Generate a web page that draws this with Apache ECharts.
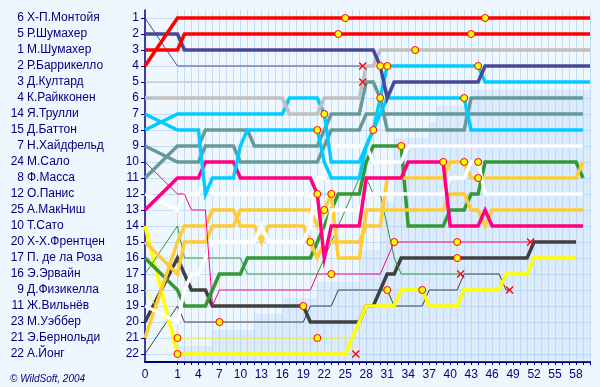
<!DOCTYPE html>
<html><head><meta charset="utf-8">
<script src="https://cdn.jsdelivr.net/npm/echarts@6/dist/echarts.min.js"></script>
<style>html,body{margin:0;padding:0;background:#eef6fe;}#c{width:600px;height:387px;}</style>
</head><body><div id="c"></div>
<script>
// ---------- DATA ----------
const gridNums  = [6,5,1,2,3,4,14,15,7,24,8,12,25,10,20,17,16,9,11,23,21,22];
const gridNames = ['Х-П.Монтойя','Р.Шумахер','М.Шумахер','Р.Баррикелло','Д.Култард','К.Райкконен','Я.Трулли','Д.Баттон','Н.Хайдфельд','М.Сало','Ф.Масса','О.Панис','А.МакНиш','Т.Сато','Х-Х.Френтцен','П. де ла Роза','Э.Эрвайн','Д.Физикелла','Ж.Вильнёв','М.Уэббер','Э.Бернольди','А.Йонг'];
const xTickLabels = [0,1,4,7,10,13,16,19,22,25,28,31,34,37,40,43,46,49,52,55,58];

// position per lap (index = lap 0..)
const posMontoya = [1,4,4,4,4,4,4,4,4,4, 4,4,4,4,4,4,4,4,4,4, 4,4,4,4,4,4,4,4];
const posRSchu = [2,2,3,3,3,3,3,3,3,3, 3,3,3,3,3,3,3,3,3,3, 3,3,3,3,3,3,3,3,3,3, 4,6,5,5,5,5,5,5,5,5, 5,5,5,5,5,4,4,4,4,4, 4,4,4,4,4,4,4,4,4,4,4];
const posMSchu = [3,3,2,2,2,2,2,2,2,2, 2,2,2,2,2,2,2,2,2,2, 2,2,2,2,2,2,2,2,2,2, 2,2,2,2,2,2,2,2,2,2, 2,2,2,2,2,2,2,2,2,2, 2,2,2,2,2,2,2,2,2,2,2];
const posBarrichello = [4,1,1,1,1,1,1,1,1,1, 1,1,1,1,1,1,1,1,1,1, 1,1,1,1,1,1,1,1,1,1, 1,1,1,1,1,1,1,1,1,1, 1,1,1,1,1,1,1,1,1,1, 1,1,1,1,1,1,1,1,1,1,1];
const posCoulthard = [5,5,5,5,5,5,5,5,5,5, 5,5,5,5,5,5,5,5,5,5, 5,5,5,5,5,5,5,5];
const posRaikkonen = [6,6,6,6,6,6,6,6,6,6, 6,6,6,6,6,6,6,7,7,7, 7,7,6,6,6,6,6,6,4,4, 3,3,3,3,3,3,3,3,3,3, 3,3,3,3,3,3,3,3,3,3, 3,3,3,3,3,3,3,3,3,3,3];
const posTrulli = [7,8,8,8,8,12,11,11,11,11, 9,8,8,8,8,8,8,8,8,8, 8,8,10,11,11,11,11,11,9,8, 6,4,4,4,4,4,4,4,4,4, 4,4,4,4,4,5,5,5,5,5, 5,5,5,5,5,5,5,5,5,5,5];
const posButton = [8,7,7,7,7,7,7,7,7,7, 7,7,7,7,7,7,7,6,6,6, 6,6,7,10,10,10,10,10,9,8, 7,6,6,6,6,6,6,6,6,6, 6,6,6,8,8,8,8,8,8,8, 8,8,8,8,8,8,8,8,8,8];
const posHeidfeld = [9,10,10,10,10,9,9,9,9,9, 10,10,10,10,10,10,10,10,10,10, 10,10,9,8,8,8,8,8,7,7, 7,7,7,7,7,7,7,7,7,7, 7,7,7,7,7,7,7,7,7,7, 7,7,7,7,7,7,7,7,7,7];
const posMassa = [11,9,9,9,9,8,8,8,8,8, 8,8,9,9,9,9,9,9,9,9, 9,9,8,7,7,7,7,7,5,5, 6,8,8,8,8,8,8,8,8,8, 8,8,8,6,6,6,6,6,6,6, 6,6,6,6,6,6,6,6,6,6];
const posSalo = [10,12,12,13,13,13,19,18,18,18, 18,18,18,18,18,18,18,18,18,18, 18,17,17,17,17,17,17,17,17,17, 17,16,15,15,15,15,15,15,15,15, 15,15,15,15,15,15,15,15,15,15, 15,15];
const posMcNish = [13,11,11,11,11,10,10,10,10,10, 11,11,11,11,11,11,11,11,11,11, 11,12,16,14,14,14,14,14,11,11, 11,11,11,11,10,10,10,10,10,10, 14,14,14,14,14,13,14,14,14,14, 14,14,14,14,14,14,14,14,14,14];
const posPanis = [12,13,12,12,12,11,12,12,12,12, 12,12,12,12,12,12,12,12,12,12, 12,13,15,13,13,13,13,13,12,12, 12,12,12,12,12,12,12,12,12,12, 11,11,11,10,10,12,12,12,12,12, 12,12,12,12,12,12,12,12,12,12];
const posVilleneuve = [19,20,18,17,17,16,15,15,15,15, 15,15,15,14,15,15,15,15,15,15, 14,11,11,9,9,9,9,9,9,10, 10,10,10,10,9,9,9,9,9,9, 9,9,9,9,9,9,9,9,9,9, 9,9,9,9,9,9,9,9,9,9];
const posBernoldi = [21,15,14,14,14,14,13,13,13,13, 14,14,14,15,14,14,14,14,14,14, 15,16,15,15,15,15,15,15,14,14, 14,11,11,11,11,11,11,11,11,11, 10,10,10,11,11,11,11,11,11,11, 11,11,11,11,11,11,11,11,11,10];
const posFrentzen = [15,17,15,15,15,15,14,14,14,14, 13,13,13,13,13,13,13,13,13,13, 13,14,13,12,16,16,16,16,13,13, 13,13,13,13,13,13,13,13,13,13, 12,12,12,13,13,14,13,13,13,13, 13,13,13,13,13,13,13,13,13,13];
const posDeLaRosa = [16,18,19,19,19,19,18,17,17,17, 17,16,16,16,16,16,16,16,16,16, 16,15,14,13,12,12,12,12,10,9, 9,9,9,9,14,14,14,14,14,14, 13,13,13,12,12,10,10,10,10,10, 10,10,10,10,10,10,10,10,10,11];
const posIrvine = [17,14,16,16,16,16,16,16,16,16, 16,17,17,17,17,17,17,17,17,17, 17,17,16,15,14,13,12,11,11,12, 12,14,16,17,17,17,17,17,17,17, 17,17];
const posFisichella = [18,21,21,21,21,21,21,21,21,21, 21,21,21,21,21,21,21,21,21,21, 21,21,21,21,21,21];
const posSato = [14,22,22,22,22,22,22,22,22,22, 22,22,22,22,22,22,22,22,22,22, 22,22,22,22,22,22,21,20,19,19, 19,19,19,18,18,18,18,19,19,19, 19,19,18,18,18,18,18,18,17,17, 17,17,16,16,16,16,16,16,16];
const posWebber = [20,16,17,18,18,18,19,19,19,19, 19,19,19,19,19,19,19,19,19,19, 20,20,20,20,20,20,20,20,19,19, 18,17,17,16,16,16,16,16,16,16, 16,16,16,16,16,16,16,16,16,16, 16,16,15,15,15,15,15,15,15];
const posYoong = [22,19,20,20,20,20,20,20,20,20, 20,20,20,20,20,20,20,20,20,20, 19,19,19,19,18,18,18,18,18,18, 18,18,19,19,19,19,19,18,18,18, 18,18,17,17,17,17,17,17,18];

// retirements: [lap of × marker, position]
const retireMontoya = [27.5, 4];
const retireCoulthard = [27.5, 5];
const retireFisichella = [26.5, 22];
const retireIrvine = [41.5, 17];
const retireYoong = [48.5, 18];
const retireSalo = [51.5, 15];

// pit stops: [lap, position]
const pitStops = [[1,21],[1,22],[7,20],[19,19],[20,15],[21,8],[21,12],[21,21],[22,7],[22,13],[23,12],[23,17],
  [24,2],[25,1],[29,8],[30,4],[30,6],[31,4],[31,18],[32,15],[33,9],[35,3],[36,18],[39,10],[41,15],[41,16],
  [42,6],[42,10],[43,2],[44,4],[44,10],[44,11],[45,1]];

// lapped-zone boundary per lap (lap 1..60)
const lappedLaps = [1,6,12,16,21,27,30,32,37,38,43,60];
const lappedFrom = [21.5,20.5,19.5,18.5,17.5,15.5,12.5,8.5,7.5,6.5,5.5,5.5];

// ---------- STYLE ----------
const NAVY = '#000080';
const C = {red:'#ff0000', navy:'#484898', grey:'#c0c0c0', cyan:'#00ccff', teal:'#669999', pink:'#ff0080',
  white:'#ffffff', yellow:'#ffff00', orange:'#ffcc33', green:'#339933', dark:'#404040'};
const drivers = [
  [posYoong, C.dark, false, retireYoong],
  [posWebber, C.dark, true],
  [posFisichella, C.yellow, false, retireFisichella],
  [posSato, C.yellow, true],
  [posIrvine, C.green, false, retireIrvine],
  [posDeLaRosa, C.green, true],
  [posFrentzen, C.orange, true],
  [posBernoldi, C.orange, true],
  [posVilleneuve, C.white, true],
  [posPanis, C.white, true],
  [posSalo, C.pink, false, retireSalo],
  [posMcNish, C.pink, true],
  [posMassa, C.teal, true],
  [posHeidfeld, C.teal, true],
  [posButton, C.cyan, true],
  [posTrulli, C.cyan, true],
  [posCoulthard, C.grey, false, retireCoulthard],
  [posRaikkonen, C.grey, true],
  [posRSchu, C.navy, true],
  [posMontoya, C.navy, false, retireMontoya],
  [posMSchu, C.red, true],
  [posBarrichello, C.red, true]
];

const X0 = 1 - 32.5/7;             // lap 0 sits 32.5px left of lap 1
const xv = l => (l === 0 ? X0 : l);
const LEFT = 145, RIGHT = 10, W = 600 - LEFT - RIGHT;
const ppu = W / (60 - X0);
const leftB = LEFT + (1 - X0) * ppu;

const series = [];
const lapData = [];
for (let i = 0; i < lappedLaps.length; i++) lapData.push([lappedLaps[i], lappedFrom[i]]);
series.push({type:'line', xAxisIndex:0, yAxisIndex:0, data:lapData, step:'end', symbol:'none', silent:true,
  lineStyle:{width:0}, areaStyle:{color:'rgba(160,200,245,0.35)', origin:'end'}, z:1});

drivers.forEach(d => {
  const [arr, col, thick, ret] = d;
  const data = arr.map((p, l) => [xv(l), p]);
  if (ret) data.push(ret);
  series.push({type:'line', xAxisIndex:0, yAxisIndex:0, data, symbol:'none', silent:true,
    lineStyle:{color:col, width: thick ? 3.5 : 1, cap:'butt', join:'miter'}, z:3});
});
series.push({type:'scatter', xAxisIndex:0, yAxisIndex:0, symbol:'circle', symbolSize:7, silent:true,
  data: pitStops.map(p => [xv(p[0]), p[1]]),
  itemStyle:{color:'#ffff00', borderColor:'#ff0000', borderWidth:1, opacity:1}, z:5});
series.push({type:'scatter', xAxisIndex:0, yAxisIndex:0, symbol:'path://M0,0L10,10M10,0L0,10', symbolSize:7, silent:true,
  data: [retireMontoya, retireCoulthard, retireFisichella, retireIrvine, retireYoong, retireSalo],
  itemStyle:{color:'none', borderColor:'#ff0000', borderWidth:1.3, opacity:1}, z:5});

const FONT = 'Liberation Sans, Arial, sans-serif';
const labelAxis = (extra) => Object.assign({gridIndex:2, type:'value', min:1, max:22, interval:1, inverse:true, position:'left',
  axisLine:{show:false, onZero:false}, axisTick:{show:false}, splitLine:{show:false}}, extra);
const chart = echarts.init(document.getElementById('c'), null, {renderer:'canvas', width:600, height:387});
chart.setOption({
  animation:false,
  backgroundColor:'#eef6fe',
  textStyle:{fontFamily:FONT},
  title:{text:'© WildSoft, 2004', left:5, top:369,
    textStyle:{fontSize:10, fontStyle:'italic', fontWeight:'normal', color:NAVY, fontFamily:FONT}},
  grid:[
    {left:LEFT, right:RIGHT, top:10, bottom:25, outerBoundsMode:'none'},
    {left:leftB, right:RIGHT, top:10, bottom:25, outerBoundsMode:'none'},
    {left:LEFT, right:RIGHT, top:18, bottom:33, outerBoundsMode:'none'}
  ],
  xAxis:[
    {gridIndex:0, type:'value', min:X0, max:60, interval:60 - X0,
      axisLine:{show:true, onZero:false, lineStyle:{color:NAVY, width:2}}, axisTick:{show:false}, splitLine:{show:false},
      axisLabel:{color:NAVY, fontSize:12, margin:7, fontFamily:FONT, formatter: v => (v < 1 ? String(xTickLabels[0]) : '')}},
    {gridIndex:1, type:'value', min:1, max:60, interval:1,
      axisLine:{show:false, onZero:false}, axisTick:{show:true, length:3, lineStyle:{color:NAVY}},
      splitLine:{show:true, lineStyle:{color:'#c6dcf5', width:1}},
      axisLabel:{color:NAVY, fontSize:12, margin:7, fontFamily:FONT,
        formatter: v => (xTickLabels.indexOf(v) > 0 ? String(v) : '')}},
    {gridIndex:2, type:'value', show:false, min:0, max:1}
  ],
  yAxis:[
    {gridIndex:0, type:'value', min:0.5, max:22.5, inverse:true,
      axisLine:{show:true, onZero:false, lineStyle:{color:NAVY, width:1.5}}, axisTick:{show:false}, axisLabel:{show:false}, splitLine:{show:false}},
    {gridIndex:1, type:'value', show:false, min:0.5, max:22.5, inverse:true},
    labelAxis({axisTick:{show:true, length:4, lineStyle:{color:NAVY}},
      splitLine:{show:true, lineStyle:{color:'#c6dcf5', width:1}},
      axisLabel:{margin:6, color:NAVY, fontSize:12, fontFamily:FONT}}),
    labelAxis({offset:118, axisLabel:{margin:0, align:'left', color:NAVY, fontSize:12, fontFamily:FONT,
      formatter: v => gridNames[v-1]}}),
    labelAxis({offset:121, axisLabel:{margin:0, align:'right', color:NAVY, fontSize:12, fontFamily:FONT,
      formatter: v => String(gridNums[v-1])}})
  ],
  series
});
</script>
</body></html>
